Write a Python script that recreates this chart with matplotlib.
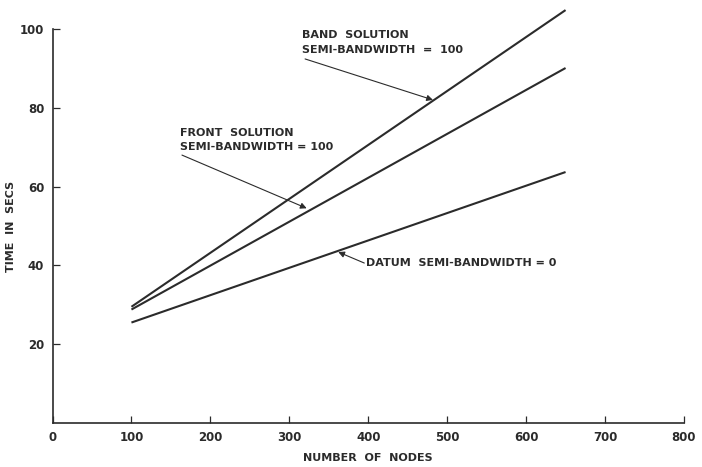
import matplotlib.pyplot as plt

# values
nodes = [100, 650]
band = [29.5, 104.8]    # band solution, semi-bandwidth = 100
front = [28.8, 90.1]    # front solution, semi-bandwidth = 100
datum = [25.5, 63.7]    # datum, semi-bandwidth = 0

xticks = [0, 100, 200, 300, 400, 500, 600, 700, 800]
yticks = [20, 40, 60, 80, 100]

plt.rcParams['font.family'] = 'DejaVu Sans'
plt.rcParams['font.weight'] = 'bold'
plt.rcParams['axes.labelweight'] = 'bold'

ink = '#2b2b2b'

fig = plt.figure(figsize=(7.02, 4.67), dpi=100)
ax = fig.add_axes([0.0748, 0.0942, 0.8995, 0.8437])

for y in (band, front, datum):
    ax.plot(nodes, y, color=ink, lw=1.5, clip_on=False, solid_capstyle='butt')

ax.set_xlim(0, 800)
ax.set_ylim(0, 100)
ax.spines['top'].set_visible(False)
ax.spines['right'].set_visible(False)
for s in ('left', 'bottom'):
    ax.spines[s].set_color(ink)
    ax.spines[s].set_linewidth(1.2)

ax.set_xticks(xticks)
ax.set_xticklabels([str(v) for v in xticks])
ax.set_yticks(yticks)
ax.set_yticklabels([str(v) for v in yticks])
ax.tick_params(axis='both', direction='in', length=5, width=0.9, color=ink,
               labelsize=8.5, labelcolor=ink)
ax.tick_params(axis='x', pad=6)
ax.tick_params(axis='y', pad=6)

ax.set_xlabel('NUMBER  OF  NODES', fontsize=8, color=ink, labelpad=6)
ax.set_ylabel('TIME  IN  SECS', fontsize=8, color=ink, labelpad=3)

arrow = dict(arrowstyle='-|>', color=ink, lw=0.8, mutation_scale=9, shrinkA=0, shrinkB=0)

ax.text(316, 98.5, 'BAND  SOLUTION', fontsize=8, color=ink, va='center')
ax.text(316, 94.7, 'SEMI-BANDWIDTH  =  100', fontsize=8, color=ink, va='center')
ax.annotate('', xy=(482, 82.0), xytext=(320, 92.4), arrowprops=arrow)

ax.text(162, 73.6, 'FRONT  SOLUTION', fontsize=8, color=ink, va='center')
ax.text(162, 70.0, 'SEMI-BANDWIDTH = 100', fontsize=8, color=ink, va='center')
ax.annotate('', xy=(322, 54.5), xytext=(164, 68.0), arrowprops=arrow)

ax.text(397, 40.6, 'DATUM  SEMI-BANDWIDTH = 0', fontsize=8, color=ink, va='center')
ax.annotate('', xy=(362, 43.4), xytext=(395, 40.6), arrowprops=arrow)

fig.savefig('out.png', dpi=100)
